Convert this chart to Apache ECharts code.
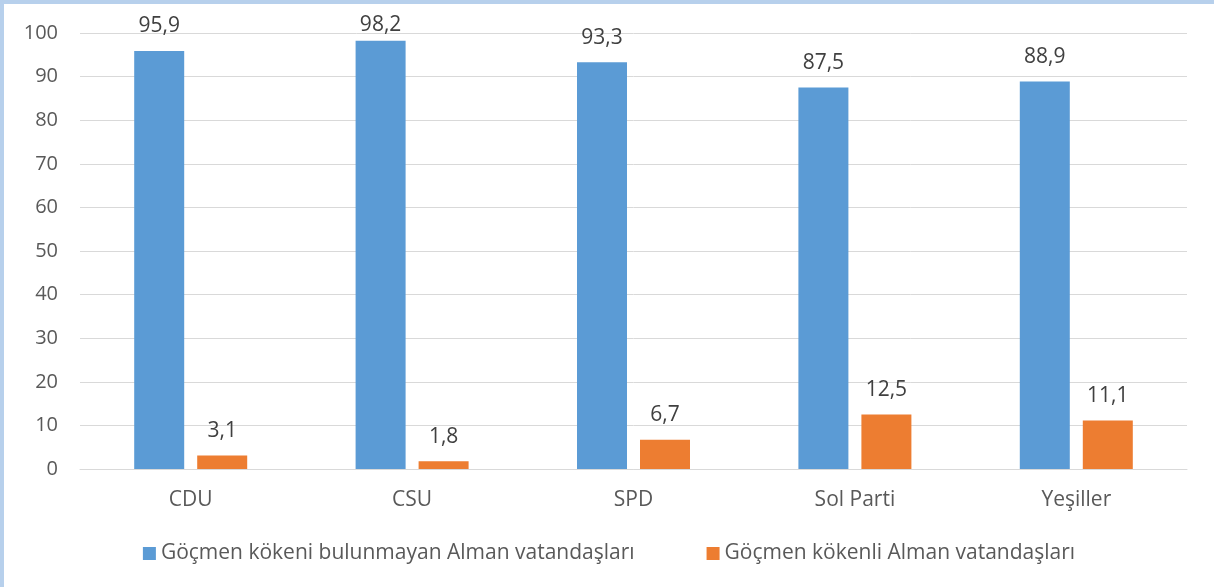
<!DOCTYPE html>
<html>
<head>
<meta charset="utf-8">
<script src="https://cdn.jsdelivr.net/npm/echarts@6/dist/echarts.min.js"></script>
<style>
  html, body { margin: 0; padding: 0; background: #fff; }
  #frame { width: 1214px; height: 587px; box-sizing: border-box; border-top: 4px solid #b7d0ec; border-left: 4px solid #b7d0ec; }
  #chart { width: 1210px; height: 583px; }
</style>
</head>
<body>
<div id="frame"><div id="chart"></div></div>
<script>
var parties = ['CDU', 'CSU', 'SPD', 'Sol Parti', 'Yeşiller'];
var nonMigrant = [95.9, 98.2, 93.3, 87.5, 88.9];
var migrant = [3.1, 1.8, 6.7, 12.5, 11.1];
var seriesNames = ['Göçmen kökeni bulunmayan Alman vatandaşları', 'Göçmen kökenli Alman vatandaşları'];

var font = '"Open Sans", sans-serif';
var labelStyle = {
    show: true,
    position: 'top',
    distance: 14,
    color: '#404040',
    fontSize: 21,
    fontFamily: font,
    formatter: function (p) { return String(p.value).replace('.', ','); }
};

var myChart = echarts.init(document.getElementById('chart'));
var option = {
    animation: false,
    textStyle: { fontFamily: font },
    grid: { left: 76, right: 27, top: 29, bottom: 118 },
    legend: {
        bottom: 18,
        left: 'center',
        itemWidth: 13,
        itemHeight: 13,
        itemGap: 72,
        icon: 'rect',
        textStyle: { color: '#595959', fontSize: 21, fontFamily: font },
        data: seriesNames
    },
    xAxis: {
        type: 'category',
        data: parties,
        axisLine: { lineStyle: { color: '#d9d9d9' } },
        axisTick: { show: false },
        axisLabel: { color: '#595959', fontSize: 21, margin: 21, fontFamily: font }
    },
    yAxis: {
        type: 'value',
        min: 0,
        max: 100,
        interval: 10,
        axisLine: { show: false },
        axisTick: { show: false },
        axisLabel: { color: '#595959', fontSize: 20, margin: 22, fontFamily: font },
        splitLine: { lineStyle: { color: '#d9d9d9' } }
    },
    series: [
        {
            name: seriesNames[0],
            type: 'bar',
            data: nonMigrant,
            barWidth: 50,
            barGap: '26%',
            itemStyle: { color: '#5b9bd5' },
            label: labelStyle,
            // keep labels inside the chart area like the original
            labelLayout: function (p) {
                return { dy: Math.max(0, 11 - p.labelRect.y) };
            }
        },
        {
            name: seriesNames[1],
            type: 'bar',
            data: migrant,
            barWidth: 50,
            itemStyle: { color: '#ed7d31' },
            label: labelStyle
        }
    ]
};
myChart.setOption(option);
</script>
</body>
</html>
